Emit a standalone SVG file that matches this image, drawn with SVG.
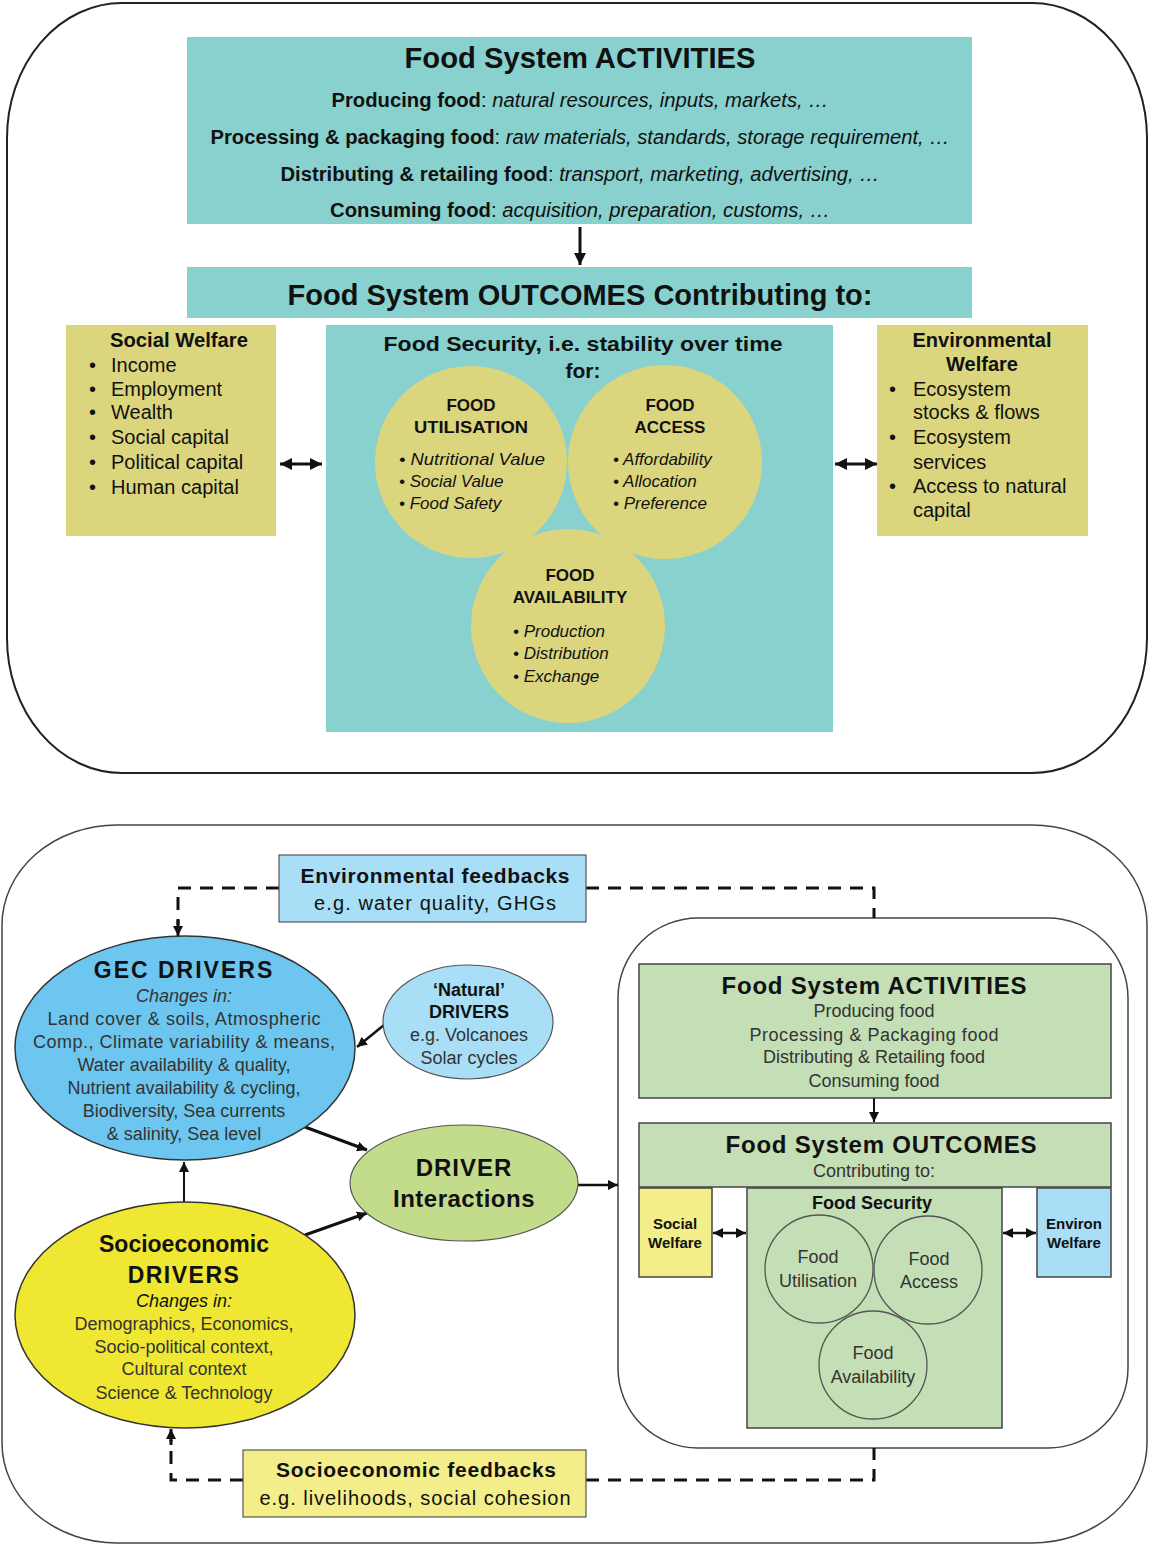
<svg xmlns="http://www.w3.org/2000/svg" width="1150" height="1546" viewBox="0 0 1150 1546">
<style>
text{font-family:"Liberation Sans",Arial,sans-serif;fill:#111}
.b{font-weight:bold}
.i{font-style:italic}
.c{text-anchor:middle}
.teal{fill:#88D1CF}
.olive{fill:#DBD67E}
.lb{fill:#A8DEF6;stroke:#555;stroke-width:1.2}
.sage{fill:#C4DEB5;stroke:#444;stroke-width:1.5}
.g{fill:#333}
.conn{fill:none;stroke:#111;stroke-width:3}
.dash{fill:none;stroke:#111;stroke-width:3;stroke-dasharray:13 9}
</style>
<defs>
<marker id="ah" viewBox="0 0 10 10" refX="10" refY="5" markerWidth="12" markerHeight="13" markerUnits="userSpaceOnUse" orient="auto-start-reverse">
<path d="M0,0 L10,5 L0,10 Z" fill="#111"/>
</marker>
<marker id="ahs" viewBox="0 0 10 10" refX="10" refY="5" markerWidth="10" markerHeight="10" markerUnits="userSpaceOnUse" orient="auto-start-reverse">
<path d="M0,0 L10,5 L0,10 Z" fill="#111"/>
</marker>
</defs>

<!-- TOP PANEL -->
<g id="top-frame"><rect x="7" y="3" width="1140" height="770" rx="115" ry="135" fill="#fff" stroke="#222" stroke-width="2"/></g>

<g id="top-activities">
<rect class="teal" x="187" y="37" width="785" height="187"/>
<text class="b c" x="580" y="68" font-size="29" textLength="351" lengthAdjust="spacingAndGlyphs">Food System ACTIVITIES</text>
<text class="c" x="580" y="107" font-size="20" textLength="497" lengthAdjust="spacingAndGlyphs"><tspan class="b">Producing food</tspan>: <tspan class="i">natural resources, inputs, markets, …</tspan></text>
<text class="c" x="580" y="144" font-size="20" textLength="739" lengthAdjust="spacingAndGlyphs"><tspan class="b">Processing &amp; packaging food</tspan>: <tspan class="i">raw materials, standards, storage requirement, …</tspan></text>
<text class="c" x="580" y="181" font-size="20" textLength="599" lengthAdjust="spacingAndGlyphs"><tspan class="b">Distributing &amp; retailing food</tspan>: <tspan class="i">transport, marketing, advertising, …</tspan></text>
<text class="c" x="580" y="217" font-size="20" textLength="500" lengthAdjust="spacingAndGlyphs"><tspan class="b">Consuming food</tspan>: <tspan class="i">acquisition, preparation, customs, …</tspan></text>
</g>

<g id="top-outcomes">
<rect class="teal" x="187" y="267" width="785" height="51"/>
<text class="b c" x="580" y="305" font-size="29" textLength="585" lengthAdjust="spacingAndGlyphs">Food System OUTCOMES Contributing to:</text>
</g>

<g id="top-social-welfare">
<rect class="olive" x="66" y="325" width="210" height="211"/>
<text class="b c" x="179" y="347" font-size="20" textLength="138" lengthAdjust="spacingAndGlyphs">Social Welfare</text>
<g font-size="20">
<text x="89" y="372">•</text><text x="111" y="372">Income</text>
<text x="89" y="396">•</text><text x="111" y="396">Employment</text>
<text x="89" y="419">•</text><text x="111" y="419">Wealth</text>
<text x="89" y="444">•</text><text x="111" y="444">Social capital</text>
<text x="89" y="469">•</text><text x="111" y="469">Political capital</text>
<text x="89" y="494">•</text><text x="111" y="494">Human capital</text>
</g>
</g>

<g id="top-food-security">
<rect class="teal" x="326" y="325" width="507" height="407"/>
<text class="b c" x="583" y="351" font-size="21" textLength="399" lengthAdjust="spacingAndGlyphs">Food Security, i.e. stability over time</text>
<text class="b c" x="583" y="378" font-size="21">for:</text>
</g>

<g id="top-food-utilisation">
<circle class="olive" cx="471" cy="462" r="96"/>
<text class="b c" x="471" y="411" font-size="17">FOOD</text>
<text class="b c" x="471" y="433" font-size="17" textLength="114" lengthAdjust="spacingAndGlyphs">UTILISATION</text>
<g font-size="17" class="i">
<text x="399" y="465" textLength="146" lengthAdjust="spacingAndGlyphs">• Nutritional  Value</text>
<text x="399" y="487">• Social Value</text>
<text x="399" y="509">• Food Safety</text>
</g>
</g>

<g id="top-food-access">
<circle class="olive" cx="665" cy="462" r="97"/>
<text class="b c" x="670" y="411" font-size="17">FOOD</text>
<text class="b c" x="670" y="433" font-size="17">ACCESS</text>
<g font-size="17" class="i">
<text x="613" y="465">• Affordability</text>
<text x="613" y="487">• Allocation</text>
<text x="613" y="509">• Preference</text>
</g>
</g>

<g id="top-food-availability">
<circle class="olive" cx="568" cy="626" r="97"/>
<text class="b c" x="570" y="581" font-size="17">FOOD</text>
<text class="b c" x="570" y="603" font-size="17">AVAILABILITY</text>
<g font-size="17" class="i">
<text x="513" y="637">• Production</text>
<text x="513" y="659">• Distribution</text>
<text x="513" y="682">• Exchange</text>
</g>
</g>

<g id="top-environmental-welfare">
<rect class="olive" x="877" y="325" width="211" height="211"/>
<text class="b c" x="982" y="347" font-size="20">Environmental</text>
<text class="b c" x="982" y="371" font-size="20">Welfare</text>
<g font-size="20">
<text x="889" y="396">•</text><text x="913" y="396">Ecosystem</text>
<text x="913" y="419">stocks &amp; flows</text>
<text x="889" y="444">•</text><text x="913" y="444">Ecosystem</text>
<text x="913" y="469">services</text>
<text x="889" y="493">•</text><text x="913" y="493">Access to natural</text>
<text x="913" y="517">capital</text>
</g>
</g>

<g id="top-connectors">
<line class="conn" x1="580" y1="227" x2="580" y2="265" marker-end="url(#ah)"/>
<line class="conn" x1="280" y1="464" x2="322" y2="464" marker-start="url(#ah)" marker-end="url(#ah)"/>
<line class="conn" x1="835" y1="464" x2="877" y2="464" marker-start="url(#ah)" marker-end="url(#ah)"/>
</g>

<!-- BOTTOM PANEL -->
<g id="bottom-frame"><rect x="2" y="825" width="1145" height="718" rx="115" ry="100" fill="#fff" stroke="#444" stroke-width="1.5"/></g>
<g id="food-system-frame"><rect x="618" y="918" width="510" height="530" rx="80" ry="80" fill="#fff" stroke="#444" stroke-width="1.5"/></g>

<g id="bottom-connectors">
<polyline class="dash" points="279,888 178,888 178,925"/>
<line x1="178" y1="920" x2="178" y2="936" stroke="#111" stroke-width="3" marker-end="url(#ahs)"/>
<polyline class="dash" points="586,888 874,888 874,918"/>
<polyline class="dash" points="243,1480 171,1480 171,1440"/>
<line x1="171" y1="1445" x2="171" y2="1429" stroke="#111" stroke-width="3" marker-end="url(#ahs)"/>
<polyline class="dash" points="586,1480 874,1480 874,1448"/>
<line x1="384" y1="1025" x2="357" y2="1047" stroke="#111" stroke-width="2.5" marker-end="url(#ahs)"/>
<line x1="305" y1="1127" x2="367" y2="1150" stroke="#111" stroke-width="3" marker-end="url(#ahs)"/>
<line x1="305" y1="1235" x2="367" y2="1213" stroke="#111" stroke-width="3" marker-end="url(#ahs)"/>
<line x1="184" y1="1203" x2="184" y2="1162" stroke="#111" stroke-width="2" marker-end="url(#ahs)"/>
<line x1="578" y1="1185" x2="618" y2="1185" stroke="#111" stroke-width="2.5" marker-end="url(#ahs)"/>
<line x1="874" y1="1098" x2="874" y2="1122" stroke="#111" stroke-width="2" marker-end="url(#ahs)"/>
<line x1="713" y1="1233" x2="746" y2="1233" stroke="#111" stroke-width="2.5" marker-start="url(#ahs)" marker-end="url(#ahs)"/>
<line x1="1003" y1="1233" x2="1036" y2="1233" stroke="#111" stroke-width="2.5" marker-start="url(#ahs)" marker-end="url(#ahs)"/>
</g>

<g id="environmental-feedbacks">
<rect class="lb" x="279" y="855" width="307" height="67"/>
<text class="b c" x="435" y="883" font-size="21" textLength="269">Environmental feedbacks</text>
<text class="c" x="435" y="910" font-size="20" textLength="242">e.g. water quality, GHGs</text>
</g>

<g id="gec-drivers">
<ellipse cx="185" cy="1048" rx="170" ry="112" fill="#6DC6EF" stroke="#333" stroke-width="1.5"/>
<text class="b c" x="184" y="978" font-size="23" letter-spacing="2">GEC DRIVERS</text>
<g class="c g" font-size="18">
<text class="i g c" x="184" y="1002" fill="#444">Changes in:</text>
<text class="g c" x="184" y="1025" textLength="273">Land cover &amp; soils, Atmospheric</text>
<text class="g c" x="184" y="1048" textLength="302">Comp., Climate variability &amp; means,</text>
<text class="g c" x="184" y="1071">Water availability &amp; quality,</text>
<text class="g c" x="184" y="1094">Nutrient availability &amp; cycling,</text>
<text class="g c" x="184" y="1117">Biodiversity, Sea currents</text>
<text class="g c" x="184" y="1140">&amp; salinity, Sea level</text>
</g>
</g>

<g id="natural-drivers">
<ellipse class="lb" cx="468" cy="1022" rx="85" ry="57"/>
<text class="b c" x="469" y="996" font-size="18">‘Natural’</text>
<text class="b c" x="469" y="1018" font-size="18">DRIVERS</text>
<text class="c g" x="469" y="1041" font-size="18">e.g. Volcanoes</text>
<text class="c g" x="469" y="1064" font-size="18">Solar cycles</text>
</g>

<g id="driver-interactions">
<ellipse cx="464" cy="1183" rx="114" ry="58" fill="#C3DC8C" stroke="#555" stroke-width="1.2"/>
<text class="b c" x="464" y="1176" font-size="24" letter-spacing="1">DRIVER</text>
<text class="b c" x="464" y="1207" font-size="24" letter-spacing="0.5">Interactions</text>
</g>

<g id="socioeconomic-drivers">
<ellipse cx="185" cy="1315" rx="170" ry="113" fill="#EFE732" stroke="#333" stroke-width="1.5"/>
<text class="b c" x="184" y="1252" font-size="23">Socioeconomic</text>
<text class="b c" x="184" y="1283" font-size="23" letter-spacing="1.5">DRIVERS</text>
<text class="i c" x="184" y="1307" font-size="18" fill="#444">Changes in:</text>
<text class="c g" x="184" y="1330" font-size="18">Demographics, Economics,</text>
<text class="c g" x="184" y="1353" font-size="18">Socio-political context,</text>
<text class="c g" x="184" y="1375" font-size="18">Cultural context</text>
<text class="c g" x="184" y="1399" font-size="18">Science &amp; Technology</text>
</g>

<g id="socioeconomic-feedbacks">
<rect x="243" y="1450" width="343" height="67" fill="#F3EE8A" stroke="#555" stroke-width="1.2"/>
<text class="b c" x="416" y="1477" font-size="21" textLength="280">Socioeconomic feedbacks</text>
<text class="c" x="415" y="1505" font-size="20" textLength="311">e.g. livelihoods, social cohesion</text>
</g>

<g id="fs-activities">
<rect class="sage" x="639" y="964" width="472" height="134"/>
<text class="b c" x="874" y="994" font-size="24" textLength="305">Food System ACTIVITIES</text>
<text class="c g" x="874" y="1017" font-size="18">Producing food</text>
<text class="c g" x="874" y="1041" font-size="18" textLength="249">Processing &amp; Packaging food</text>
<text class="c g" x="874" y="1063" font-size="18">Distributing &amp; Retailing food</text>
<text class="c g" x="874" y="1087" font-size="18">Consuming food</text>
</g>

<g id="fs-outcomes">
<rect class="sage" x="639" y="1123" width="472" height="64"/>
<text class="b c" x="881" y="1153" font-size="24" textLength="311">Food System OUTCOMES</text>
<text class="c g" x="874" y="1177" font-size="18">Contributing to:</text>
</g>

<g id="fs-social-welfare">
<rect x="639" y="1188" width="73" height="89" fill="#F3EE8A" stroke="#444" stroke-width="1.5"/>
<text class="b c" x="675" y="1229" font-size="15">Social</text>
<text class="b c" x="675" y="1248" font-size="15">Welfare</text>
</g>

<g id="fs-environ-welfare">
<rect x="1037" y="1188" width="74" height="89" fill="#A8DEF6" stroke="#444" stroke-width="1.5"/>
<text class="b c" x="1074" y="1229" font-size="15">Environ</text>
<text class="b c" x="1074" y="1248" font-size="15">Welfare</text>
</g>

<g id="fs-food-security">
<rect class="sage" x="747" y="1188" width="255" height="240"/>
<text class="b c" x="872" y="1209" font-size="18">Food Security</text>
</g>
<g id="fs-food-utilisation">
<circle cx="819" cy="1269" r="54" fill="none" stroke="#555" stroke-width="1.3"/>
<text class="c g" x="818" y="1263" font-size="18">Food</text>
<text class="c g" x="818" y="1287" font-size="18">Utilisation</text>
</g>
<g id="fs-food-access">
<circle cx="928" cy="1270" r="54" fill="none" stroke="#555" stroke-width="1.3"/>
<text class="c g" x="929" y="1265" font-size="18">Food</text>
<text class="c g" x="929" y="1288" font-size="18">Access</text>
</g>
<g id="fs-food-availability">
<circle cx="873" cy="1365" r="54" fill="none" stroke="#555" stroke-width="1.3"/>
<text class="c g" x="873" y="1359" font-size="18">Food</text>
<text class="c g" x="873" y="1383" font-size="18">Availability</text>
</g>
</svg>
